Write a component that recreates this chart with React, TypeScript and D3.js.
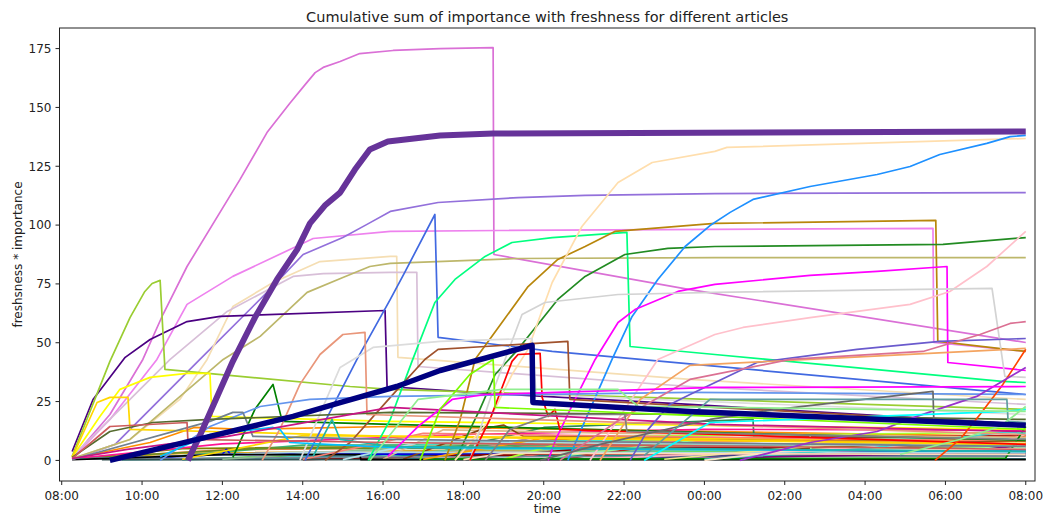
import React from "react";
import * as d3 from "d3";

// Each article is a list of [hours since 08:00, cumulative freshness * importance]
type Pt = [number, number];

const START = new Date(2023, 0, 1, 8, 0, 0);
const X_TICK_HOURS = [0, 2, 4, 6, 8, 10, 12, 14, 16, 18, 20, 22, 24];
const Y_TICKS = [0, 25, 50, 75, 100, 125, 150, 175];

const TITLE = "Cumulative sum of importance with freshness for different articles";
const X_LABEL = "time";
const Y_LABEL = "freshsness * importance";

// ---- low-scoring articles (dense band near zero) ----
const b01: Pt[] = [[1.5, 0.3], [4, 0.6], [24, 0.6]];
const b02: Pt[] = [[0.26, 0.5], [3, 5.0], [10, 6.2], [24, 5.5]];
const b03: Pt[] = [[0.26, 0.8], [2.2, 7.6], [3.3, 14.0], [4.5, 13.2], [8.2, 14.4], [16, 12.3], [24, 10.2]];
const b04: Pt[] = [[9.5, 0.5], [11.5, 6.0], [16, 7.2], [24, 6.5]];
const b05: Pt[] = [[0.26, 0.6], [4, 4.5], [12, 5.8], [24, 5.2]];
const b06: Pt[] = [[10, 1], [12, 8.5], [13, 9.5], [24, 7.0]];
const b07: Pt[] = [[6, 0.5], [9, 3.8], [24, 3.5]];
const b08: Pt[] = [[8, 0.5], [11, 4.2], [24, 4.0]];
const b09: Pt[] = [[0.26, 0.5], [3, 3], [12, 4.6], [24, 4.2]];
const b10: Pt[] = [[9.5, 0.3], [12, 3.4], [24, 3.6]];
const b11: Pt[] = [[3, 0.5], [7, 2.6], [24, 3]];
const b12: Pt[] = [[9, 2], [12, 14], [17.21, 17.4], [17.23, 10.2], [24, 9]];
const b13: Pt[] = [[2, 0.5], [6, 6.5], [24, 6.8]];
const b14: Pt[] = [[0.26, 0.8], [5, 5.2], [24, 4.8]];
const b15: Pt[] = [[3, 0.3], [8, 2.0], [24, 2.2]];
const b16: Pt[] = [[12, 0.5], [16, 6.0], [24, 7.4]];
const b17: Pt[] = [[14, 0.5], [18, 4.0], [24, 5.2]];
const b18: Pt[] = [[5, 0.5], [10, 8.0], [24, 9.5]];
const b19: Pt[] = [[7, 0.5], [10, 4.8], [24, 3.8]];
const b20: Pt[] = [[11, 0.5], [14, 7.8], [24, 8.9]];
const b21: Pt[] = [[13, 0.5], [16, 3.2], [24, 4.4]];
const b22: Pt[] = [[0.26, 0.7], [4, 7.0], [10, 11.0], [16, 13.2], [24, 12.8]];
const b23: Pt[] = [[2, 0.8], [4, 2.6], [4.1, 4.7], [4.2, 2.6], [24, 2.8]];
const b24: Pt[] = [[0.26, 0.5], [5, 3.0], [24, 2.5]];
const b25: Pt[] = [[10, 0.5], [13, 5.0], [24, 5.8]];
const b26: Pt[] = [[6, 0.3], [11, 2.6], [24, 3.2]];
const b27: Pt[] = [[12.5, 0.5], [16, 9.5], [24, 10.6]];
const b28: Pt[] = [[9, 0.5], [12, 10.5], [20, 8.0], [24, 7.4]];
const b29: Pt[] = [[0.26, 0.5], [8, 1.5], [24, 1.8]];
const b30: Pt[] = [[1, 0.3], [24, 0.5]];
const b31: Pt[] = [[4, 0.5], [10, 7.0], [24, 6.2]];
const b32: Pt[] = [[12, 1], [16, 9], [18.63, 11], [18.65, 4.7], [24, 5.5]];
const b33: Pt[] = [[11, 0.5], [13, 10.0], [24, 12.0]];
const b34: Pt[] = [[13, 0.5], [20, 5.5], [23.5, 8.5], [24, 11.0]];
const b35: Pt[] = [[8, 0.5], [9.5, 13], [14, 11.5], [24, 9.8]];
const b36: Pt[] = [[8.5, 0.5], [10.5, 13.5], [11, 15.0], [11.5, 10.2], [24, 8.0]];
const b37: Pt[] = [[14, 0.5], [18, 3.0], [24, 4.6]];
const b38: Pt[] = [[15, 0.5], [22, 3.0], [24, 6.5]];
const b39: Pt[] = [[0.26, 0.5], [6, 3.5], [24, 3.2]];
const b40: Pt[] = [[0.26, 0.3], [4, 2.5], [7.42, 2.5], [7.45, 0.3], [24, 0.3]];
const b41: Pt[] = [[9, 0.5], [23.5, 1.0], [24, 14.4]];
const b42: Pt[] = [[15, 0.5], [19, 6.5], [24, 7.5]];
const b43: Pt[] = [[7, 0.3], [9, 8.0], [24, 6.0]];
const b44: Pt[] = [[16, 0.5], [20, 5], [23.5, 12], [24, 11.5]];
const b45: Pt[] = [[3, 0.5], [6, 10.5], [16, 9.3], [24, 8.5]];
const b46: Pt[] = [[9, 0.5], [12, 9.5], [24, 7.0]];
const b47: Pt[] = [[6, 0.5], [9, 11.5], [20, 9.0], [24, 8.5]];
const b48: Pt[] = [[10, 0.3], [11, 3], [24, 2.5]];
const b49: Pt[] = [[16, 0], [18, 4], [24, 5]];

// ---- articles that climb higher ----
const a01: Pt[] = [[0.26, 0.8], [1.2, 19.5], [2.02, 42.9], [2.52, 62.0], [3.12, 82.4], [4.44, 119.4], [5.11, 139.3], [5.68, 151.8], [6.06, 159.7], [6.31, 164.8], [6.51, 167.0], [6.93, 169.5], [7.42, 172.9], [8.25, 174.2], [9.42, 175.0], [10.74, 175.4], [10.76, 87.5], [15.64, 72.6], [24, 50.1]];
const a02: Pt[] = [[0.26, 0.8], [1.2, 17.4], [2.37, 42.9], [3.12, 66.3], [4.26, 78.2], [6.26, 94.3], [8.18, 97.3], [10.91, 97.7], [21.69, 98.6], [21.71, 50.1], [24, 46.3]];
const a03: Pt[] = [[0.26, 0.4], [1.33, 6.8], [2.2, 21.7], [3.44, 42.9], [5.11, 71.4], [6.01, 87.5], [7.0, 94.7], [7.6, 100.3], [8.18, 105.8], [9.37, 109.6], [11.36, 111.7], [13.03, 112.6], [16.26, 113.4], [24, 113.8]];
const a04: Pt[] = [[0.26, 0.8], [1.7, 8.9], [2.94, 25.9], [3.62, 42.9], [4.26, 65.4], [5.26, 75.6], [6.43, 84.5], [8.18, 86.7], [8.34, 86.7], [8.37, 43.8], [15.64, 34.4], [24, 25.9]];
const a05: Pt[] = [[0.26, 1.7], [1.45, 21.7], [2.7, 42.9], [4.12, 63.3], [5.76, 78.2], [6.51, 79.4], [8.18, 79.9], [8.84, 79.9], [8.87, 39.9], [15.64, 31.4], [24, 23.8]];
const a06: Pt[] = [[0.26, 0.8], [1.7, 8.9], [4.02, 42.9], [4.94, 52.7], [6.11, 71.4], [7.0, 77.7], [7.67, 82.4], [8.18, 83.7], [11.36, 85.8], [16.26, 86.2], [24, 86.2]];
const a07: Pt[] = [[0.26, 3.8], [0.78, 25.9], [1.58, 43.8], [2.2, 51.4], [3.12, 59.0], [3.94, 61.2], [8.05, 63.7], [8.1, 31.4], [10.24, 28.9], [15.64, 23.8], [24, 15.3]];
const a08: Pt[] = [[0.26, 1.7], [1.2, 42.1], [1.7, 60.7], [2.07, 71.8], [2.25, 75.2], [2.45, 76.5], [2.57, 38.7], [7.18, 31.4], [8.18, 30.2], [24, 21.7]];
const a09: Pt[] = [[0.26, 1.3], [0.95, 18.7], [1.45, 30.2], [2.2, 35.3], [3.12, 37.0], [3.69, 37.0], [3.74, 18.7], [8.18, 16.6], [24, 13.2]];
const a10: Pt[] = [[0.26, 1.3], [0.88, 24.6], [1.2, 26.8], [1.65, 26.8], [1.7, 13.2], [8.18, 10.2], [24, 6.8]];
const a11: Pt[] = [[4.26, 1.3], [4.81, 21.7], [5.26, 32.3], [5.49, 16.6], [8.18, 15.3], [24, 8.5]];
const a12: Pt[] = [[6.06, 0], [7.35, 42.9], [8.18, 68.4], [8.54, 79.9], [9.29, 104.5], [9.37, 52.3], [12.21, 46.3], [24, 28.0]];
const a13: Pt[] = [[7.63, 0], [8.18, 17.4], [8.72, 42.1], [9.29, 67.1], [9.79, 76.9], [10.54, 86.7], [11.21, 92.6], [12.21, 94.7], [14.07, 96.9], [14.15, 48.4], [16.26, 45.0], [23.41, 33.6], [24, 33.1]];
const a14: Pt[] = [[9.54, 0], [9.92, 17.4], [10.29, 42.9], [10.96, 58.6], [11.61, 73.9], [12.35, 85.4], [13.03, 90.9], [13.77, 97.3], [16.26, 100.7], [21.76, 102.0], [21.81, 50.6], [24, 46.3]];
const a15: Pt[] = [[9.79, 0], [10.41, 21.7], [10.79, 36.5], [11.36, 47.2], [12.35, 68.4], [13.03, 78.2], [14.02, 87.5], [15.09, 90.1], [16.26, 90.9], [21.94, 91.8], [24, 94.7]];
const a16: Pt[] = [[9.79, 0], [10.66, 17.4], [11.21, 36.5], [11.61, 47.2], [12.21, 75.6], [12.95, 99.4], [13.85, 118.1], [14.7, 126.6], [16.26, 131.3], [16.56, 133.0], [24, 136.8]];
const a17: Pt[] = [[12.6, 0], [13.15, 21.7], [13.7, 42.9], [14.2, 61.2], [14.84, 76.9], [15.52, 90.9], [16.14, 99.8], [16.64, 105.4], [17.21, 110.9], [18.63, 116.4], [20.3, 121.5], [21.12, 124.9], [21.86, 130.0], [23.03, 134.7], [23.61, 137.6], [24, 138.1]];
const a18: Pt[] = [[12.11, 0], [12.3, 8.9], [12.78, 25.9], [13.28, 42.9], [13.85, 58.6], [14.27, 64.1], [15.34, 71.8], [16.26, 74.8], [18.63, 78.6], [20.3, 80.3], [22.04, 82.4], [22.06, 41.6], [24, 38.2]];
const a19: Pt[] = [[13.15, 0], [14.02, 21.7], [14.84, 42.9], [16.26, 53.5], [16.96, 56.5], [18.63, 60.7], [21.12, 66.3], [22.11, 71.8], [23.03, 82.4], [24, 97.3]];
const a20: Pt[] = [[10.16, 0], [10.66, 25.9], [11.46, 62.0], [12.03, 67.1], [13.85, 70.5], [16.26, 71.4], [23.16, 73.1], [23.48, 35.7], [24, 35.3]];
const a21: Pt[] = [[5.93, 0], [6.93, 39.5], [7.75, 48.0], [9.42, 50.6], [11.71, 51.8], [11.81, 28.0], [24, 19.5]];
const a22: Pt[] = [[6.56, 0], [7.18, 7.6], [8.18, 26.8], [9.04, 42.9], [9.37, 47.2], [10.54, 48.4], [12.6, 50.6], [12.65, 25.9], [24, 15.3]];
const a23: Pt[] = [[10.16, 0], [10.66, 17.4], [11.21, 42.1], [11.36, 45.0], [11.91, 45.5], [11.96, 26.8], [12.11, 18.7], [12.28, 21.7], [12.4, 13.2], [24, 6.8]];
const a24: Pt[] = [[4.99, 0], [5.43, 13.2], [5.93, 32.3], [6.43, 45.0], [7.0, 53.5], [7.55, 54.4], [7.6, 19.5], [24, 11.0]];
const a25: Pt[] = [[2.45, 0], [3.69, 14.4], [4.94, 22.9], [6.18, 25.9], [8.18, 27.2], [15.64, 28.9], [24, 28.0]];
const a26: Pt[] = [[0.26, 0.4], [3.69, 16.6], [4.26, 20.4], [4.51, 20.4], [4.76, 10.2], [8.18, 8.9], [24, 5.9]];
const a27: Pt[] = [[2.45, 1.7], [3.69, 11.0], [5.26, 14.0], [5.43, 13.2], [5.68, 7.6], [8.18, 5.5], [24, 3.8]];
const a28: Pt[] = [[6.26, 1.7], [6.73, 17.4], [6.93, 8.9], [8.18, 5.9], [24, 3.8]];
const a29: Pt[] = [[0.26, 1.3], [1.2, 12.3], [2.27, 16.1], [3.69, 17.4], [8.18, 20.4], [16.26, 19.5], [24, 17.4]];
const a30: Pt[] = [[0.26, 0.8], [1.2, 14.4], [3.12, 16.1], [3.14, 8.9], [8.18, 7.6], [24, 4.7]];
const a31: Pt[] = [[0.26, 0.8], [1.63, 4.7], [4.12, 10.2], [8.18, 22.5], [16.26, 15.3], [24, 12.3]];
const a32: Pt[] = [[21.74, 0], [22.36, 8.9], [22.86, 19.5], [23.43, 32.3], [24, 47.2]];
const a33: Pt[] = [[16.88, 0], [18.63, 7.6], [20.3, 12.3], [21.29, 18.7], [22.78, 27.2], [24, 39.5]];
const a34: Pt[] = [[14.15, 0], [14.6, 13.2], [15.14, 23.8], [15.64, 28.0], [17.31, 41.6], [19.8, 47.2], [21.86, 50.6], [24, 51.8]];
const a35: Pt[] = [[13.4, 0], [14.4, 25.9], [15.64, 40.4], [19.62, 43.8], [24, 47.6]];
const a36: Pt[] = [[12.4, 0], [13.9, 17.4], [15.64, 34.4], [18.13, 42.9], [21.44, 46.3], [22.86, 53.5], [23.61, 58.2], [24, 59.0]];
const a37: Pt[] = [[8.12, 1.7], [8.87, 14.4], [9.72, 25.9], [10.54, 28.0], [16.26, 31.0], [24, 31.4]];
const a38: Pt[] = [[8.92, 0], [9.42, 21.7], [10.16, 36.5], [10.74, 42.9], [10.79, 22.5], [16.26, 18.7], [24, 13.2]];
const a39: Pt[] = [[10.54, 0], [11.16, 13.2], [12.21, 19.5], [14.02, 19.5], [14.07, 12.3], [24, 8.9]];
const a40: Pt[] = [[11.91, 0], [13.4, 6.8], [16.14, 17.4], [17.81, 21.7], [21.69, 29.3], [21.71, 17.4], [24, 15.3]];
const a41: Pt[] = [[14.5, 2], [16.14, 25.9], [23.53, 25.9], [23.56, 16.6], [24, 16.1]];
const a42: Pt[] = [[14.5, 0], [16.14, 16.1], [23.53, 20.8], [24, 21.7]];
const a43: Pt[] = [[7.67, 0], [8.87, 25.9], [10.96, 30.2], [13.85, 30.2], [14.35, 23.0], [24, 20.8]];
const a44: Pt[] = [[20.87, 2.5], [22.36, 8.9], [23.36, 14.4], [24, 22.9]];

// ---- the two highlighted articles ----
const topArticle: Pt[] = [[3.14, 0], [3.44, 10.6], [4.26, 42.1], [4.81, 60.7], [5.36, 76.9], [5.86, 89.6], [6.18, 100.7], [6.55, 108.3], [6.93, 113.8], [7.3, 123.6], [7.67, 132.1], [8.12, 135.5], [9.42, 138.1], [10.74, 138.9], [24, 139.8]];
const focusArticle: Pt[] = [[1.2, 0], [3.69, 10.2], [5.76, 18.7], [6.93, 24.6], [8.34, 31.4], [9.42, 38.2], [11.71, 48.9], [11.73, 24.6], [15.64, 20.8], [24, 14.9]];

const SERIES: Pt[][] = [
  b01, b02, b03, b04, b05, b06, b07, b08, b09, b10, b11, b12, b13, b14, b15, b16, b17,
  b18, b19, b20, b21, b22, b23, b24, b25, b26, b27, b28, b29, b30, b31, b32, b33, b34,
  b35, b36, b37, b38, b39, b40, b41, b42, b43, b44, b45, b46, b47, b48, b49,
  a01, a02, a03, a04, a05, a06, a07, a08, a09, a10, a11, a12, a13, a14, a15, a16, a17,
  a18, a19, a20, a21, a22, a23, a24, a25, a26, a27, a28, a29, a30, a31, a32, a33, a34,
  a35, a36, a37, a38, a39, a40, a41, a42, a43, a44,
];

const SERIES_COLORS = [
  "teal", "olive", "darkorange", "tomato", "coral", "chocolate", "peru", "tan", "goldenrod",
  "lime", "limegreen", "seagreen", "mediumseagreen", "olivedrab", "darkcyan", "steelblue",
  "skyblue", "turquoise", "mediumaquamarine", "lightcoral", "hotpink", "deeppink", "blue",
  "mediumblue", "darkred", "maroon", "firebrick", "rosybrown", "lightslategray",
  "darkslategray", "darkseagreen", "palegreen", "greenyellow", "lightpink", "burlywood",
  "saddlebrown", "darkslateblue", "purple", "lightblue", "black", "green", "khaki",
  "powderblue", "mediumturquoise", "gold", "orange", "salmon", "peachpuff", "bisque",
  "orchid", "violet", "mediumpurple", "wheat", "thistle", "darkkhaki", "indigo",
  "yellowgreen", "yellow", "gold", "green", "royalblue", "springgreen", "darkgoldenrod",
  "forestgreen", "navajowhite", "dodgerblue", "magenta", "pink", "lightgray", "gainsboro",
  "sienna", "red", "darksalmon", "cornflowerblue", "slategray", "deepskyblue",
  "lightseagreen", "darkolivegreen", "indianred", "mediumvioletred", "orangered",
  "darkorchid", "slateblue", "sandybrown", "palevioletred", "fuchsia", "lawngreen", "gray",
  "dimgray", "cadetblue", "cyan", "lightgreen", "lightgreen",
];

const W = 1044;
const H = 518;
const PLOT = { left: 59.5, right: 1035, top: 28, bottom: 481 };
const FONT = "DejaVu Sans, Liberation Sans, sans-serif";

const toDate = (h: number) => new Date(START.getTime() + h * 3600 * 1000);

export default function App() {
  const x = d3.scaleTime().domain([toDate(-0.055), toDate(24.23)]).range([PLOT.left, PLOT.right]);
  const y = d3.scaleLinear().domain([-8.75, 183.75]).range([PLOT.bottom, PLOT.top]);
  const line = d3
    .line<Pt>()
    .x((d) => x(toDate(d[0])))
    .y((d) => y(d[1]));
  const fmt = d3.timeFormat("%H:%M");
  const cx = (PLOT.left + PLOT.right) / 2;
  const cy = (PLOT.top + PLOT.bottom) / 2;

  return (
    <div style={{ position: "absolute", left: 0, top: 0, background: "#fff" }}>
      <svg width={W} height={H} style={{ display: "block", fontFamily: FONT }}>
        <rect x={0} y={0} width={W} height={H} fill="#fff" />
        <defs>
          <clipPath id="plot-clip">
            <rect x={PLOT.left} y={PLOT.top} width={PLOT.right - PLOT.left} height={PLOT.bottom - PLOT.top} />
          </clipPath>
        </defs>
        <g clipPath="url(#plot-clip)" fill="none" strokeLinejoin="round">
          {SERIES.map((s, i) => (
            <path key={i} d={line(s) || ""} stroke={SERIES_COLORS[i]} strokeWidth={1.7} />
          ))}
          <path d={line(topArticle) || ""} stroke="rebeccapurple" strokeWidth={6} />
          <path d={line(focusArticle) || ""} stroke="navy" strokeWidth={5.5} />
        </g>
        <rect
          x={PLOT.left}
          y={PLOT.top}
          width={PLOT.right - PLOT.left}
          height={PLOT.bottom - PLOT.top}
          fill="none"
          stroke="#222"
          strokeWidth={1}
        />
        {X_TICK_HOURS.map((h) => {
          const px = x(toDate(h));
          return (
            <g key={h}>
              <line x1={px} x2={px} y1={PLOT.bottom} y2={PLOT.bottom + 4} stroke="#222" />
              <text x={px} y={PLOT.bottom + 19} fontSize={12} textAnchor="middle" fill="#222">
                {fmt(toDate(h))}
              </text>
            </g>
          );
        })}
        {Y_TICKS.map((v) => {
          const py = y(v);
          return (
            <g key={v}>
              <line x1={PLOT.left - 4} x2={PLOT.left} y1={py} y2={py} stroke="#222" />
              <text x={PLOT.left - 8} y={py + 4.3} fontSize={12} textAnchor="end" fill="#222">
                {v}
              </text>
            </g>
          );
        })}
        <text x={cx} y={21.5} fontSize={14.5} textAnchor="middle" fill="#222">
          {TITLE}
        </text>
        <text x={cx} y={513} fontSize={12} textAnchor="middle" fill="#222">
          {X_LABEL}
        </text>
        <text
          transform={`translate(21.5, ${cy}) rotate(-90)`}
          fontSize={12}
          textAnchor="middle"
          fill="#222"
        >
          {Y_LABEL}
        </text>
      </svg>
    </div>
  );
}
